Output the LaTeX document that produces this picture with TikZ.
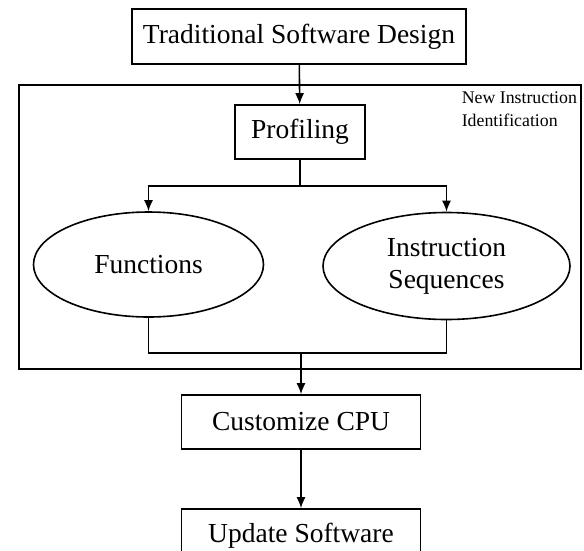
\documentclass[tikz,border=0pt]{standalone}
\usepackage{fontspec}
\setmainfont{Liberation Serif}
\usetikzlibrary{shapes.geometric,arrows.meta}
\begin{document}
\begin{tikzpicture}[x=1pt,y=-1pt,line width=1.6pt,
		box/.style={draw,rectangle,inner sep=0pt,font=\fontsize{27.5}{32}\selectfont},
		oval/.style={draw,ellipse,inner sep=0pt,align=center,font=\fontsize{27.5}{32}\selectfont},
		arr/.style={-{Latex[length=11pt,width=9pt]}}]
			\useasboundingbox (0,0) rectangle (584,550);
			\clip (0,0) rectangle (584,550);
			\node[box,minimum width=334,minimum height=55] (trad) at (299,36.5) {Traditional Software Design};
			\draw (19,85) rectangle (581,369);
			\node[align=left,anchor=north west,inner sep=0pt,font=\fontsize{17.8}{23}\selectfont] (nii) at (461,91) {New Instruction\\Identification};
			\node[box,minimum width=130,minimum height=54] (prof) at (300,132) {Profiling};
			\node[oval,minimum width=230,minimum height=105] (func) at (148.5,264.5) {Functions};
			\node[oval,minimum width=247,minimum height=107] (iseq) at (446.5,266) {Instruction\\Sequences};
			\node[box,minimum width=239,minimum height=54] (cpu) at (301,422) {Customize CPU};
			\node[box,minimum width=239,minimum height=54] (upd) at (301,536) {Update Software};
			\coordinate (split) at (300,186);
			\coordinate (join) at (301,353);
			\draw[arr] (trad) -- (prof);
			\draw (prof) -- (split);
			\draw[arr] (split) -| (func.north);
			\draw[arr] (split) -| (iseq.north);
			\draw (func.south) |- (join) -| (iseq.south);
			\draw[arr] (join) -- (cpu);
			\draw[arr] (cpu) -- (upd);
		\end{tikzpicture}
\end{document}
